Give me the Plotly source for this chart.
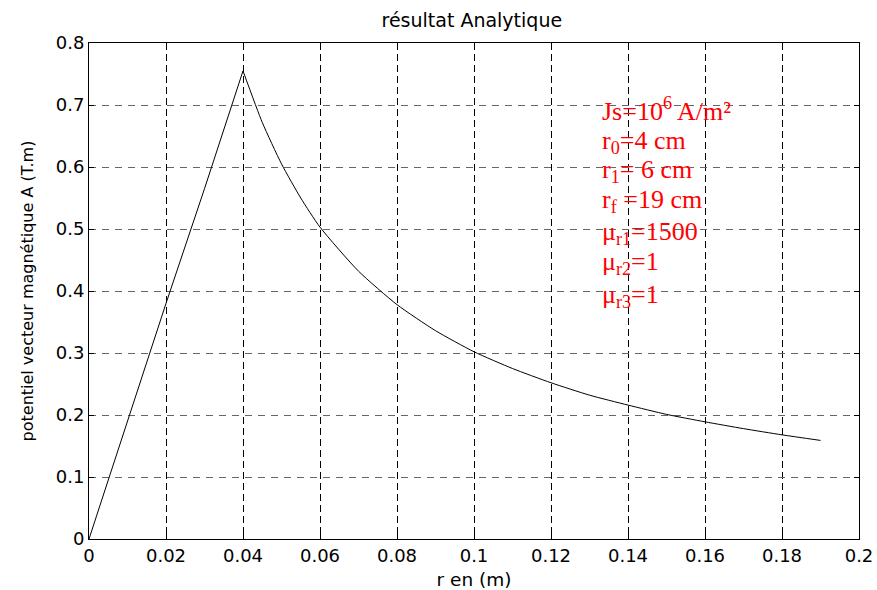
import plotly.graph_objects as go

# rising part (inside conductor)
r_in = [0.0, 0.01, 0.02, 0.03, 0.04]
A_in = [0.0, 0.19, 0.38, 0.565, 0.755]
# decaying part
r_out = [0.04, 0.045, 0.05, 0.055, 0.06, 0.07, 0.08, 0.09, 0.10, 0.11, 0.12,
         0.13, 0.14, 0.15, 0.16, 0.17, 0.18, 0.19]
A_out = [0.755, 0.672, 0.605, 0.55, 0.503, 0.432, 0.378, 0.336, 0.302, 0.275,
         0.252, 0.232, 0.216, 0.201, 0.189, 0.178, 0.168, 0.159]

x_ticks = [0, 0.02, 0.04, 0.06, 0.08, 0.1, 0.12, 0.14, 0.16, 0.18, 0.2]
x_tick_text = ["0", "0.02", "0.04", "0.06", "0.08", "0.1", "0.12", "0.14", "0.16", "0.18", "0.2"]
y_ticks = [0, 0.1, 0.2, 0.3, 0.4, 0.5, 0.6, 0.7, 0.8]
y_tick_text = ["0", "0.1", "0.2", "0.3", "0.4", "0.5", "0.6", "0.7", "0.8"]

info_lines = [
    "Js=10<sup>6</sup> A/m²",
    "r<sub>0</sub>=4 cm",
    "r<sub>1</sub>= 6 cm",
    "r<sub>f</sub> =19 cm",
    "μ<sub>r1</sub>=1500",
    "μ<sub>r2</sub>=1",
    "μ<sub>r3</sub>=1",
]
info_y = [0.693, 0.641, 0.593, 0.5445, 0.494, 0.4455, 0.392]

fig = go.Figure()
fig.add_trace(go.Scatter(x=r_in, y=A_in, mode="lines",
                         line=dict(color="black", width=1), showlegend=False))
fig.add_trace(go.Scatter(x=r_out, y=A_out, mode="lines",
                         line=dict(color="black", width=1, shape="spline", smoothing=0.6),
                         showlegend=False))

for txt, yy in zip(info_lines, info_y):
    fig.add_annotation(x=0.1328, y=yy, xref="x", yref="y", text=txt, showarrow=False,
                       xanchor="left", yanchor="middle",
                       font=dict(family="Liberation Serif", size=26, color="red"))

axis_common = dict(showline=True, linecolor="black", linewidth=1, mirror="ticks",
                   ticks="inside", ticklen=5, tickcolor="black", zeroline=False,
                   automargin=False,
                   tickfont=dict(family="DejaVu Sans", size=18, color="black"))

fig.update_xaxes(range=[0, 0.2], tickvals=x_ticks, ticktext=x_tick_text,
                 showgrid=True, gridcolor="black", griddash="7px,4px", gridwidth=1,
                 title=dict(text="r en (m)", font=dict(family="DejaVu Sans", size=18.5, color="black"),
                            standoff=8),
                 **axis_common)
fig.update_yaxes(range=[0, 0.8], tickvals=y_ticks, ticktext=y_tick_text,
                 showgrid=True, gridcolor="#666666", griddash="7px,6px", gridwidth=1,
                 title=dict(text="potentiel vecteur magnétique A (T.m)",
                            font=dict(family="DejaVu Sans", size=16, color="black"),
                            standoff=18),
                 **axis_common)

fig.update_layout(
    width=877, height=590,
    margin=dict(l=89, r=18, t=43, b=51),
    plot_bgcolor="white", paper_bgcolor="white",
    title=dict(text="résultat Analytique", x=0.538, xanchor="center", y=0.965, yanchor="middle",
               font=dict(family="DejaVu Sans", size=19, color="black")),
)

fig.write_html("out.html")
